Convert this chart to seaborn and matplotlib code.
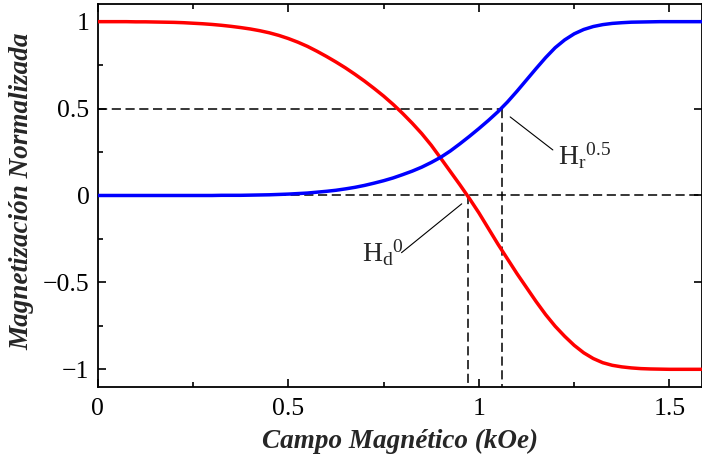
import numpy as np
import pandas as pd
import seaborn as sns
import matplotlib.pyplot as plt
from matplotlib.ticker import FixedLocator

sns.set_style("ticks")
plt.rcParams['font.family'] = ['Liberation Serif', 'DejaVu Serif']
plt.rcParams['mathtext.fontset'] = 'custom'
plt.rcParams['mathtext.rm'] = 'Liberation Serif'
plt.rcParams['mathtext.it'] = 'Liberation Serif:italic'

# campo magnetico (kOe)
campo = [0.000, 0.025, 0.050, 0.075, 0.100, 0.125, 0.150, 0.175, 0.200, 0.225,
         0.250, 0.275, 0.300, 0.325, 0.350, 0.375, 0.400, 0.425, 0.450, 0.475,
         0.500, 0.525, 0.550, 0.575, 0.600, 0.625, 0.650, 0.675, 0.700, 0.725,
         0.750, 0.775, 0.800, 0.825, 0.850, 0.875, 0.900, 0.925, 0.950, 0.975,
         1.000, 1.025, 1.050, 1.075, 1.100, 1.125, 1.150, 1.175, 1.200, 1.225,
         1.250, 1.275, 1.300, 1.325, 1.350, 1.375, 1.400, 1.425, 1.450, 1.475,
         1.500, 1.525, 1.550, 1.584]
# rama de desmagnetizacion (roja)
m_desmag = [1.000, 1.000, 1.000, 1.000, 0.999, 0.999, 0.998, 0.997, 0.996, 0.994,
            0.991, 0.988, 0.984, 0.979, 0.973, 0.966, 0.958, 0.948, 0.936, 0.921,
            0.903, 0.882, 0.858, 0.830, 0.800, 0.768, 0.734, 0.697, 0.658, 0.616,
            0.572, 0.524, 0.472, 0.416, 0.356, 0.289, 0.214, 0.138, 0.062, -0.017,
            -0.100, -0.190, -0.280, -0.365, -0.450, -0.530, -0.610, -0.685, -0.752, -0.810,
            -0.862, -0.905, -0.938, -0.962, -0.977, -0.986, -0.992, -0.996, -0.998, -0.999,
            -1.000, -1.000, -1.000, -1.000]
# curva de remanencia (azul)
m_reman = [0.000, 0.000, 0.000, 0.000, 0.000, 0.000, 0.000, 0.000, 0.000, 0.000,
           0.000, 0.000, 0.000, 0.001, 0.001, 0.001, 0.002, 0.003, 0.004, 0.006,
           0.008, 0.011, 0.014, 0.019, 0.024, 0.030, 0.038, 0.047, 0.058, 0.071,
           0.085, 0.101, 0.120, 0.140, 0.163, 0.190, 0.220, 0.256, 0.297, 0.340,
           0.385, 0.432, 0.482, 0.538, 0.600, 0.665, 0.730, 0.793, 0.850, 0.895,
           0.930, 0.955, 0.972, 0.983, 0.990, 0.994, 0.997, 0.998, 0.999, 1.000,
           1.000, 1.000, 1.000, 1.000]

Hd0 = 0.971   # campo donde M_d = 0
Hr05 = 1.060  # campo donde M_r = 0.5

xticks = [0, 0.5, 1, 1.5]
xticklabels = ["0", "0.5", "1", "1.5"]
yticks = [-1, -0.5, 0, 0.5, 1]
yticklabels = ["\u22121", "\u22120.5", "0", "0.5", "1"]

df = pd.DataFrame({"H": campo, "Md": m_desmag, "Mr": m_reman})

fig = plt.figure(figsize=(7.02, 4.65), dpi=100)
fig.subplots_adjust(left=0.1392, right=0.9993, bottom=0.1684, top=0.9908)
ax = fig.add_subplot(111)

# guide lines
dash = (0, (6, 3))
ax.axhline(0, color="black", lw=1.1, ls=dash, zorder=1)
ax.plot([0, Hr05], [0.5, 0.5], color="black", lw=1.1, ls=dash, zorder=1)
ax.plot([Hd0, Hd0], [0, -1.1], color="black", lw=1.1, ls=dash, zorder=1)
ax.plot([Hr05, Hr05], [0.5, -1.1], color="black", lw=1.1, ls=dash, zorder=1)

sns.lineplot(data=df, x="H", y="Md", color="#ff0000", lw=2.5, ax=ax, zorder=3)
sns.lineplot(data=df, x="H", y="Mr", color="#0000ff", lw=2.5, ax=ax, zorder=3)

# labels for the characteristic fields
ax.plot([1.082, 1.194], [0.452, 0.262], color="black", lw=0.8)
ax.text(1.207, 0.176, r"$\mathrm{H}_{\mathrm{r}}{}^{0.5}$", fontsize=20, va="baseline", ha="left")
ax.plot([0.955, 0.797], [-0.048, -0.329], color="black", lw=0.8)
ax.text(0.693, -0.382, r"$\mathrm{H}_{\mathrm{d}}{}^{0}$", fontsize=20, va="baseline", ha="left")

ax.set_xlim(0, 1.584)
ax.set_ylim(-1.1, 1.1)
ax.xaxis.set_major_locator(FixedLocator(xticks))
ax.set_xticklabels(xticklabels)
ax.yaxis.set_major_locator(FixedLocator(yticks))
ax.set_yticklabels(yticklabels)
ax.xaxis.set_minor_locator(FixedLocator([0.25, 0.75, 1.25]))
ax.yaxis.set_minor_locator(FixedLocator([-0.75, -0.25, 0.25, 0.75]))

ax.tick_params(which="both", direction="in", top=True, right=True, width=1.2,
               labelsize=18.5, colors="black")
ax.tick_params(which="major", length=6, pad=8)
ax.tick_params(which="minor", length=3.5)
ax.tick_params(axis="y", which="minor", right=False)
ax.tick_params(axis="y", which="major", pad=6)
for s in ax.spines.values():
    s.set_linewidth(1.3)
    s.set_color("black")

ax.set_xlabel("Campo Magnético (kOe)", fontsize=19.5, fontweight="bold", style="italic")
ax.set_ylabel("Magnetización Normalizada", fontsize=19.5, fontweight="bold", style="italic")
ax.xaxis.set_label_coords(0.5, -0.11)
ax.yaxis.set_label_coords(-0.105, 0.51)

fig.savefig("out.png", dpi=100)
